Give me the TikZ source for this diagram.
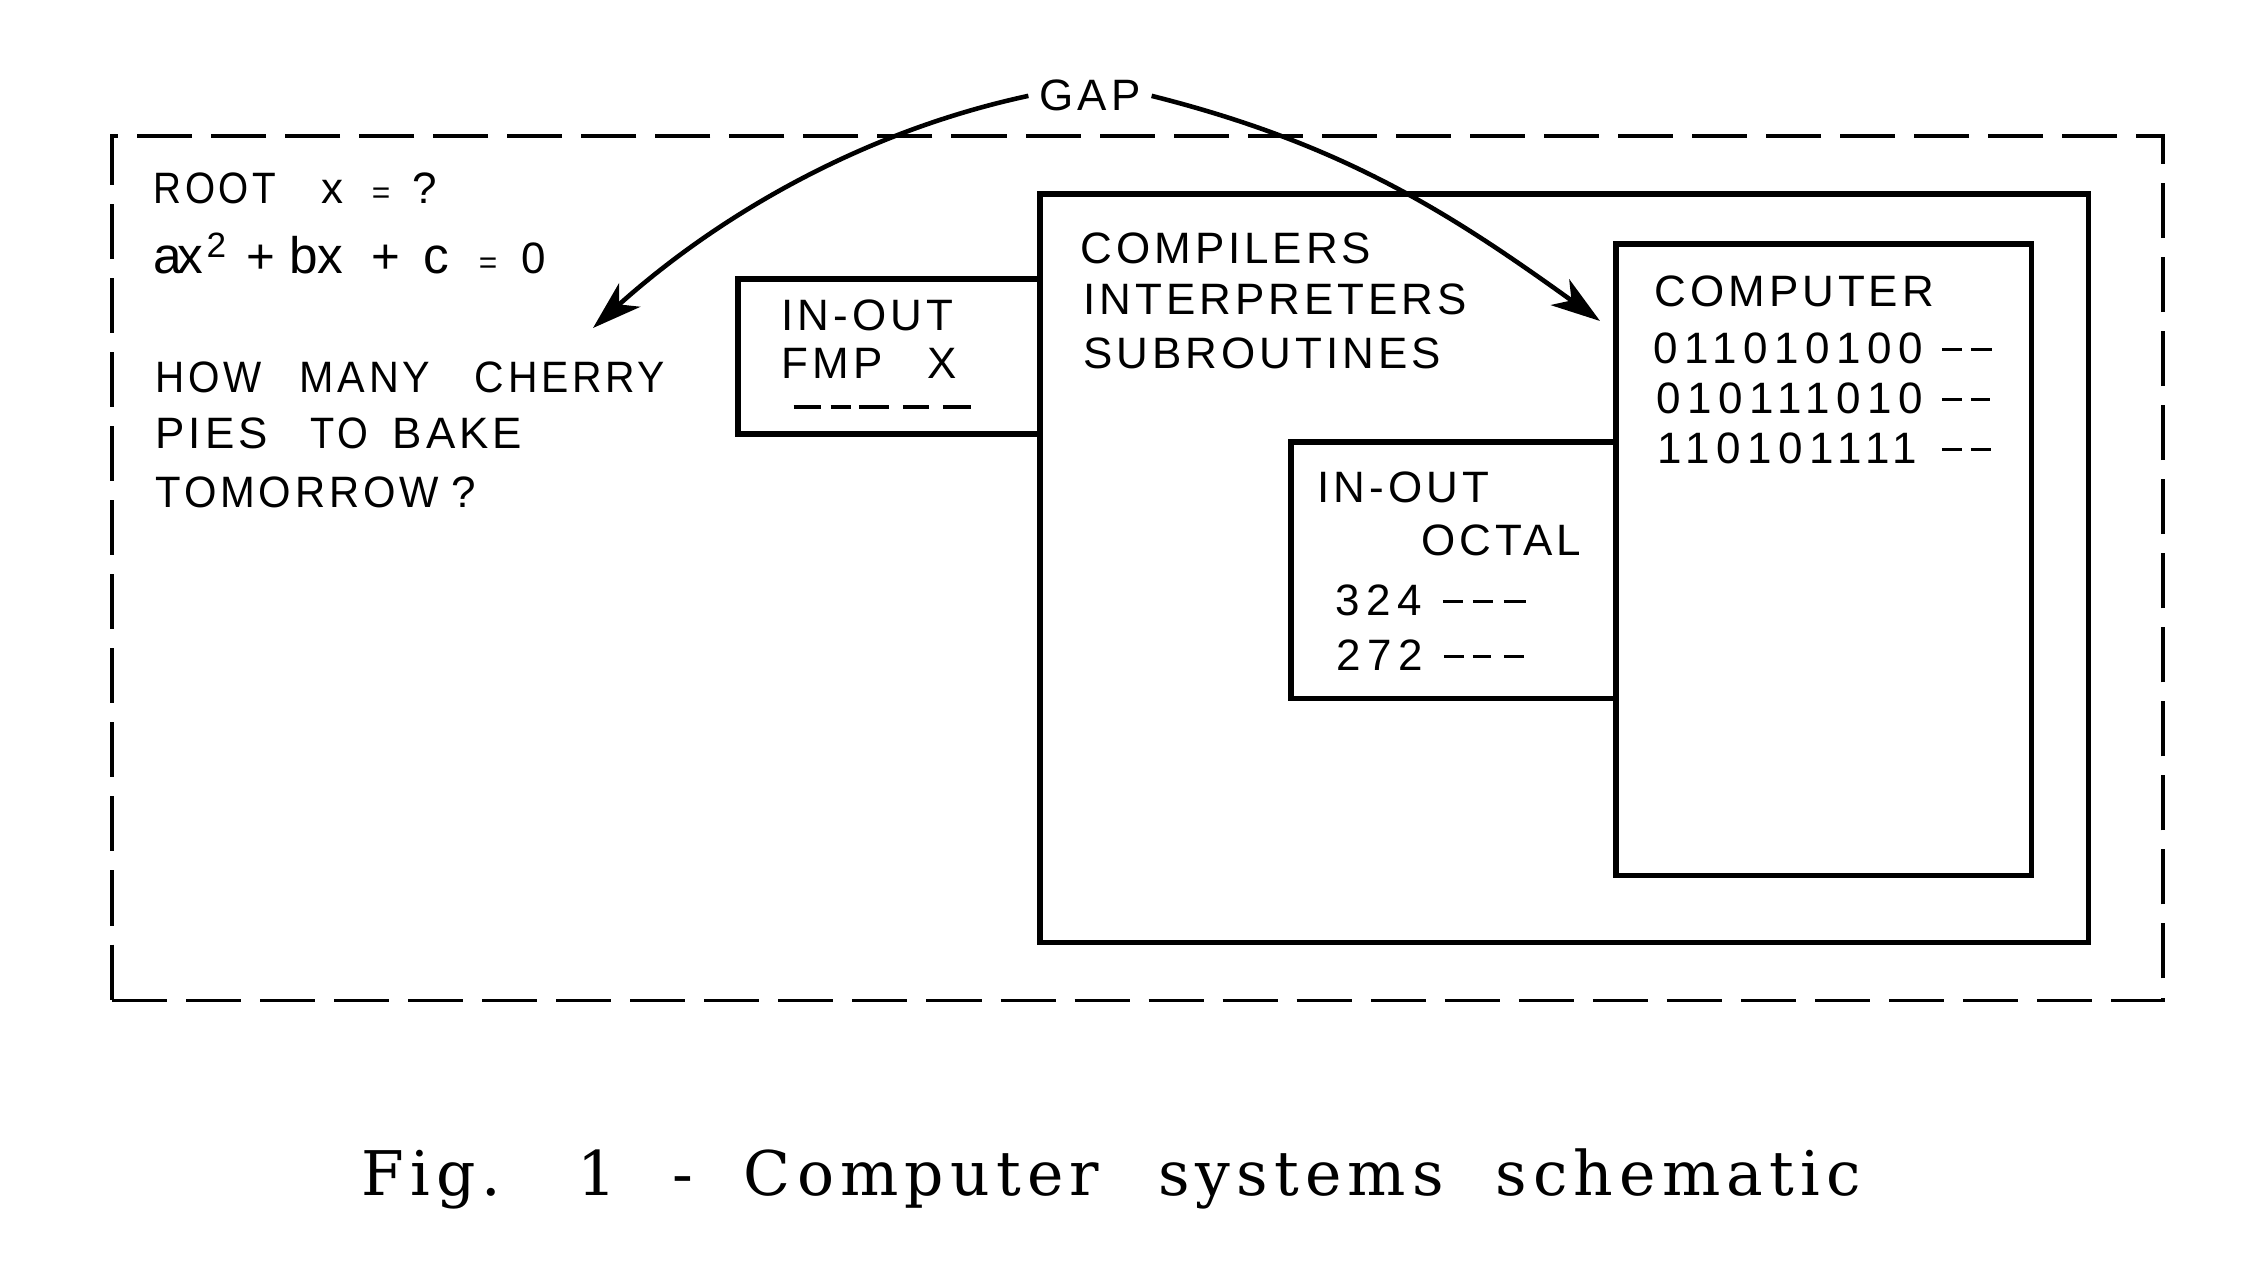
\documentclass[tikz,border=0pt]{standalone}
\usepackage{fontspec}
\usetikzlibrary{arrows.meta}
\newfontfamily\lettr[LetterSpace=9]{Liberation Sans}
\newfontfamily\lettrd[LetterSpace=15]{Liberation Sans}
\newfontfamily\capfont[LetterSpace=10]{DejaVu Serif}
\newcommand\at[2]{\makebox[0pt][l]{\hspace*{\dimexpr0.28453pt*#1\relax}#2}}
\newcommand\dsh[2][0pt]{\rule[#1]{\dimexpr0.28453pt*#2\relax}{1pt}}
\newcommand\lc[1]{{\fontsize{14.6}{15}\selectfont#1}}
\newcommand\wid[1]{\hspace*{\dimexpr0.28453pt*#1\relax}}
\begin{document}
\begin{tikzpicture}[x=0.01cm,y=-0.01cm,
  lt/.style={font=\lettr\fontsize{12.5}{15}\selectfont, inner sep=0pt, anchor=base west},
  ltd/.style={lt, font=\lettrd\fontsize{12.5}{15}\selectfont},
  box/.style={draw, line width=1.5pt, inner sep=0pt, outer sep=0pt, anchor=north west},
  dbox/.style={draw, line width=1.1pt, dash pattern=on 0.55cm off 0.19cm, inner sep=0pt, outer sep=0pt, anchor=north west},
  arr/.style={line width=1.3pt, -{Stealth[length=14pt,width=9pt,inset=4pt]}},
  capt/.style={font=\capfont\fontsize{17.5}{20}\selectfont, inner sep=0pt, anchor=base west}]
\useasboundingbox (0,0) rectangle (2249,1279);
% boxes
\node[dbox, minimum width=20.50cm, minimum height=8.64cm] (outer) at (112,136) {};
\node[box, minimum width=10.48cm, minimum height=7.48cm] (comp) at (1040,194) {};
\node[box, minimum width=4.15cm, minimum height=6.31cm] (cpu) at (1616,244) {};
\node[box, minimum width=3.02cm, minimum height=1.55cm] (fmp) at (738,279) {};
\node[box, minimum width=3.25cm, minimum height=2.56cm] (oct) at (1291,442) {};
% left texts
\node[lt] (t1) at (153,203) {\at{0}{\scalebox{0.88}[1]{ROOT}}\at{168}{x}\at{218}{{\fontsize{9}{9}\selectfont =}}\at{259}{?}\wid{285}};
\node[lt] (t2) at (153,273) {\at{0}{\lc a}\at{24}{\lc x}\at{53}{\raisebox{4.5pt}{\fontsize{10}{10}\selectfont 2}}\at{93}{{\fontsize{14}{14}\selectfont +}}\at{136}{\lc b}\at{164}{\lc x}\at{218}{{\fontsize{14}{14}\selectfont +}}\at{270}{\lc c}\at{325}{{\fontsize{9}{9}\selectfont =}}\at{368}{0}\wid{400}};
\node[lt] (t3) at (155,392) {\at{0}{\scalebox{0.92}[1]{HOW}}\at{144}{\scalebox{0.94}[1]{MANY}}\at{319}{\scalebox{0.93}[1]{CHERRY}}\wid{508}};
\node[lt] (t4) at (155,448) {\at{0}{PIES}\at{155}{\scalebox{0.9}[1]{TO}}\at{237}{BAKE}\wid{366}};
\node[lt] (t5) at (155,507) {\at{0}{\scalebox{0.95}[1]{TOMORROW}}\at{296}{?}\wid{315}};
% fmp box texts
\node[lt] (f1) at (781,330) {IN-OUT};
\node[lt] (f2) at (781,378) {\at{0}{FMP}\at{146}{X}\wid{172}};
\node[lt] (f3) at (793,409) {\at{0}{\dsh{27}}\at{37}{\dsh{20}}\at{65}{\dsh{30}}\at{109}{\dsh{26}}\at{149}{\dsh{28}}\wid{177}};
% compilers
\node[lt] (c1) at (1080,263) {COMPILERS};
\node[lt] (c2) at (1083,314) {INTERPRETERS};
\node[lt] (c3) at (1083,368) {SUBROUTINES};
% computer
\node[lt] (p1) at (1654,306) {COMPUTER};
\node[ltd] (p2) at (1653,363) {\at{0}{011010100}\at{288}{\dsh[3.4pt]{20}}\at{317}{\dsh[3.4pt]{21}}\wid{338}};
\node[ltd] (p3) at (1656,413) {\at{0}{010111010}\at{285}{\dsh[3.4pt]{20}}\at{314}{\dsh[3.4pt]{19}}\wid{334}};
\node[ltd] (p4) at (1657,463) {\at{0}{110101111}\at{284}{\dsh[3.4pt]{20}}\at{313}{\dsh[3.4pt]{20}}\wid{333}};
% octal
\node[lt] (o1) at (1317,502) {IN-OUT};
\node[lt] (o2) at (1421,555) {OCTAL};
\node[ltd] (o3) at (1335,615) {\at{0}{324}\at{107}{\dsh[3.4pt]{20}}\at{137}{\dsh[3.4pt]{20}}\at{168}{\dsh[3.4pt]{22}}\wid{190}};
\node[ltd] (o4) at (1336,670) {\at{0}{272}\at{107}{\dsh[3.4pt]{20}}\at{136}{\dsh[3.4pt]{18}}\at{167}{\dsh[3.4pt]{20}}\wid{187}};
% gap and arrows
\node[lt, anchor=base, inner xsep=3pt] (gap) at (1090,111) {GAP};
\coordinate (ltip) at (593,328);
\coordinate (rtip) at (1600,321);
\draw[arr] (gap.west) .. controls (856,133) and (713,220) .. (ltip);
\draw[arr] (gap.east) .. controls (1343,144) and (1450,213) .. (rtip);
% caption
\node[capt] (cap) at (361,1195) {\at{0}{Fig.}\at{216}{1}\at{311}{-}\at{382}{Computer}\at{796}{systems}\at{1133}{schematic}\wid{1503}};
\end{tikzpicture}
\end{document}
